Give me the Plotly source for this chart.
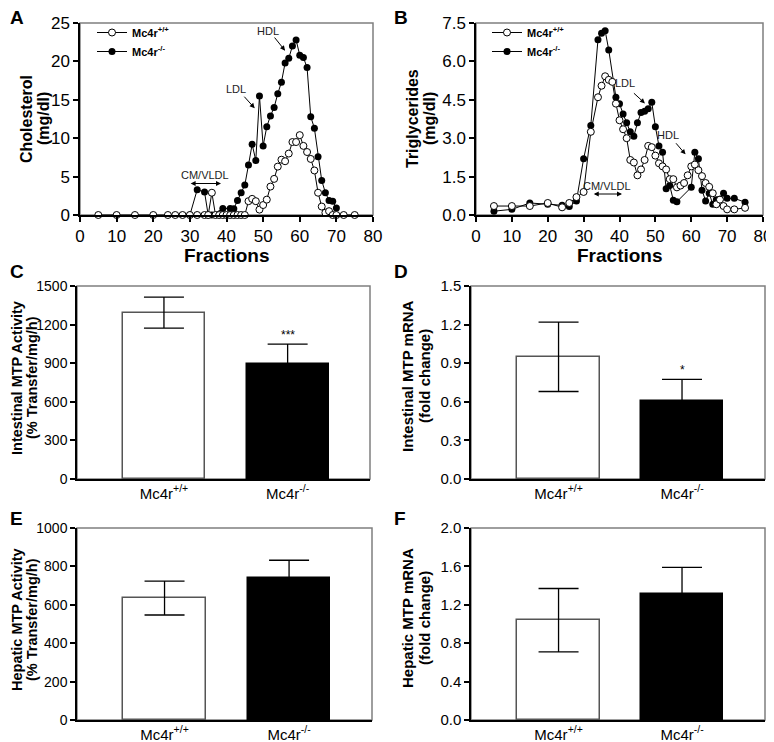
import plotly.graph_objects as go

# ---------------- DATA ----------------
# Panel A: cholesterol (mg/dl) per fraction
a_wt_frac = [5, 10, 15, 20, 24, 26, 28, 30, 32, 34, 35, 36, 37, 38, 39, 40, 41, 42, 43, 44, 45,
             46, 47, 48, 49, 50, 51, 52, 53, 54, 55, 56, 57, 58, 59, 60, 61, 62, 63, 64, 65,
             66, 67, 68, 69, 70, 72, 75]
a_wt_chol = [0, 0, 0, 0, 0, 0, 0, 0, 0, 0, 0, 2.9, 0, 0, 0, 0, 0, 0, 0, 0, 0,
             1.8, 2.1, 1.8, 0.7, 1.3, 2.0, 3.7, 4.7, 6.3, 7.2, 7.0, 8.0, 9.5, 9.5, 10.4, 9.0, 8.2, 7.3, 5.8, 2.9,
             1.1, 0.3, 0.5, 0.0, 0.0, 0.0, 0.0]
a_ko_frac = [30, 32, 34, 35, 36, 39, 41, 42, 43, 44, 45, 46, 47, 48, 49, 50, 51, 52, 53, 54,
             55, 56, 57, 58, 59, 60, 61, 62, 63, 64, 65, 66, 67, 68, 69, 70]
a_ko_chol = [0, 3.3, 3.0, 0, 0, 0.85, 0.85, 0.8, 1.9, 2.9, 3.9, 6.5, 9.2, 7.1, 15.5, 9.0, 11.5, 12.9, 14.0, 15.8,
             17.3, 19.8, 20.4, 22.0, 22.8, 20.8, 20.5, 19.2, 12.8, 11.3, 7.6, 4.5, 2.9, 1.9, 1.8, 0.9]

# Panel B: triglycerides (mg/dl) per fraction
b_wt_frac = [5, 10, 15, 20, 24, 26, 28, 30, 32, 34, 35, 36, 37, 38, 39, 40, 41, 42, 43, 44, 45,
             46, 47, 48, 49, 50, 51, 52, 53, 54, 55, 56, 57, 58, 59, 60, 61, 62, 63, 64, 65,
             66, 67, 68, 69, 70, 72, 75]
b_wt_tg = [0.35, 0.35, 0.35, 0.47, 0.3, 0.47, 0.7, 0.9, 3.25, 4.6, 5.05, 5.42, 5.28, 5.2, 4.35, 3.7, 3.35, 3.0, 2.15, 2.05, 1.55,
           1.78, 2.15, 2.7, 2.65, 2.32, 2.02, 1.9, 1.78, 1.4, 1.4, 1.08, 1.15, 1.25, 1.55, 1.9, 1.97, 1.75, 1.52, 1.25, 1.1,
           0.85, 0.42, 0.6, 0.35, 0.22, 0.22, 0.28]
b_ko_frac = [5, 10, 15, 20, 24, 26, 28, 30, 32, 34, 35, 36, 37, 39, 40, 41, 42, 43, 44, 45,
             46, 47, 48, 49, 50, 51, 52, 53, 54, 55, 56, 60, 61, 62, 63, 64, 65,
             66, 67, 68, 69, 70, 72, 75]
b_ko_tg = [0.15, 0.22, 0.47, 0.42, 0.38, 0.33, 0.55, 2.2, 3.5, 6.85, 7.1, 7.2, 6.45, 4.6, 4.35, 3.95, 3.6, 3.25, 3.08, 3.6,
           4.0, 4.05, 4.15, 4.4, 3.45, 2.7, 2.45, 1.03, 1.15, 0.58, 0.52, 1.08, 2.45, 2.2, 0.97, 0.55, 0.85,
           0.42, 0.6, 0.62, 0.85, 0.65, 0.65, 0.5]

# Bar panels
groups = ["Mc4r<sup>+/+</sup>", "Mc4r<sup>-/-</sup>"]
c_mean = [1293, 891]
c_err = [120, 158]
d_mean = [0.95, 0.61]
d_err = [0.27, 0.165]
e_mean = [635, 742]
e_err = [88, 90]
f_mean = [1.04, 1.31]
f_err = [0.33, 0.28]

# ---------------- LAYOUT HELPERS ----------------
OFF = 8                      # page body margin
W, H = 774 - OFF, 742 - OFF  # figure size
FONT = "Arial, Liberation Sans, sans-serif"


def sx(p):
    return (p - OFF) / W


def sy(p):
    return 1 - (p - OFF) / H


def xd(p0, p1):
    return [sx(p0), sx(p1)]


def yd(top, bottom):
    return [sy(bottom), sy(top)]


fig = go.Figure()

line_kw = dict(color="black", width=1)

# Panel A traces
fig.add_trace(go.Scatter(x=a_ko_frac, y=a_ko_chol, mode="lines+markers", name="<b>Mc4r<sup>-/-</sup></b>",
                         line=line_kw, marker=dict(size=7, color="black"),
                         xaxis="x", yaxis="y", cliponaxis=False, legend="legend", legendrank=2))
fig.add_trace(go.Scatter(x=a_wt_frac, y=a_wt_chol, mode="lines+markers", name="<b>Mc4r<sup>+/+</sup></b>",
                         line=line_kw, marker=dict(size=7, color="white", line=dict(color="black", width=1)),
                         xaxis="x", yaxis="y", cliponaxis=False, legend="legend", legendrank=1))
# Panel B traces
fig.add_trace(go.Scatter(x=b_ko_frac, y=b_ko_tg, mode="lines+markers", name="<b>Mc4r<sup>-/-</sup></b>",
                         line=line_kw, marker=dict(size=7, color="black"),
                         xaxis="x2", yaxis="y2", cliponaxis=False, legend="legend2", legendrank=2))
fig.add_trace(go.Scatter(x=b_wt_frac, y=b_wt_tg, mode="lines+markers", name="<b>Mc4r<sup>+/+</sup></b>",
                         line=line_kw, marker=dict(size=7, color="white", line=dict(color="black", width=1)),
                         xaxis="x2", yaxis="y2", cliponaxis=False, legend="legend2", legendrank=1))

bar_panels = [(c_mean, c_err, "x3", "y3"), (d_mean, d_err, "x4", "y4"),
              (e_mean, e_err, "x5", "y5"), (f_mean, f_err, "x6", "y6")]
for mean, err, xa, ya in bar_panels:
    fig.add_trace(go.Bar(x=[0, 1], y=mean, width=0.665,
                         marker=dict(color=["white", "black"], line=dict(color=["#555555", "black"], width=1.5)),
                         error_y=dict(type="data", array=err, visible=True, color="black", thickness=1.3, width=20),
                         xaxis=xa, yaxis=ya, showlegend=False))

tf_big = dict(family=FONT, size=17, color="black")
tf_mid = dict(family=FONT, size=15, color="black")
tf_sm = dict(family=FONT, size=14, color="black")

common = dict(showline=True, linecolor="black", linewidth=1.5, ticks="outside", ticklen=5,
              tickcolor="black", tickwidth=1.5, showgrid=False, zeroline=False, mirror=False,
              automargin=False)
catax = dict(showline=True, linecolor="black", linewidth=1.5, ticks="", showgrid=False, zeroline=False,
             mirror=False, automargin=False)

layout = dict(
    width=W, height=H, margin=dict(l=0, r=0, t=0, b=0, autoexpand=False),
    plot_bgcolor="white", paper_bgcolor="white",
    font=dict(family=FONT, color="black"), bargap=0,
    # A
    xaxis=dict(domain=xd(80, 373), anchor="y", range=[0, 80], tickvals=list(range(0, 81, 10)), tickfont=tf_big, **common),
    yaxis=dict(domain=yd(23, 215), anchor="x", range=[0, 25], tickvals=[0, 5, 10, 15, 20, 25], tickfont=tf_big, **common),
    # B
    xaxis2=dict(domain=xd(476, 763), anchor="y2", range=[0, 80], tickvals=list(range(0, 81, 10)), tickfont=tf_big, **common),
    yaxis2=dict(domain=yd(23, 215), anchor="x2", range=[0, 7.5], tickvals=[0, 1.5, 3, 4.5, 6, 7.5], tickformat=".1f",
                tickfont=tf_big, **common),
    # C
    xaxis3=dict(domain=xd(77, 370), anchor="y3", range=[-0.703, 1.666], tickvals=[0, 1], ticktext=groups,
                tickfont=tf_mid, **catax),
    yaxis3=dict(domain=yd(286, 479), anchor="x3", range=[0, 1500], tickvals=[0, 300, 600, 900, 1200, 1500],
                tickfont=tf_sm, **common),
    # D
    xaxis4=dict(domain=xd(471, 765), anchor="y4", range=[-0.709, 1.672], tickvals=[0, 1], ticktext=groups,
                tickfont=tf_mid, **catax),
    yaxis4=dict(domain=yd(286, 479), anchor="x4", range=[0, 1.5], tickvals=[0, 0.3, 0.6, 0.9, 1.2, 1.5], tickformat=".1f",
                tickfont=tf_mid, **common),
    # E
    xaxis5=dict(domain=xd(77, 372), anchor="y5", range=[-0.703, 1.666], tickvals=[0, 1], ticktext=groups,
                tickfont=tf_mid, **catax),
    yaxis5=dict(domain=yd(528, 720), anchor="x5", range=[0, 1000], tickvals=[0, 200, 400, 600, 800, 1000],
                tickfont=tf_sm, **common),
    # F
    xaxis6=dict(domain=xd(471, 765), anchor="y6", range=[-0.709, 1.672], tickvals=[0, 1], ticktext=groups,
                tickfont=tf_mid, **catax),
    yaxis6=dict(domain=yd(528, 720), anchor="x6", range=[0, 2.0], tickvals=[0, 0.4, 0.8, 1.2, 1.6, 2.0], tickformat=".1f",
                tickfont=tf_mid, **common),
    legend=dict(x=sx(92), y=sy(18), xanchor="left", yanchor="top", bgcolor="rgba(0,0,0,0)",
                font=dict(family=FONT, size=11), tracegroupgap=0, itemwidth=30, traceorder="normal"),
    legend2=dict(x=sx(487), y=sy(18), xanchor="left", yanchor="top", bgcolor="rgba(0,0,0,0)",
                 font=dict(family=FONT, size=11), tracegroupgap=0, itemwidth=30, traceorder="normal"),
)
fig.update_layout(**layout)

# gray frame (top/right) for each panel
for i in ["", "2", "3", "4", "5", "6"]:
    fig.add_shape(type="rect", xref=f"x{i} domain", yref=f"y{i} domain", x0=0, x1=1, y0=0, y1=1,
                  line=dict(color="#7f7f7f", width=1.5), layer="below")

# axis titles (one rotated text per line, placed at screen positions)
ytitles = [("Cholesterol", 27, 119, 16), ("(mg/dl)", 44, 119, 16),
           ("Triglycerides", 413, 119, 16), ("(mg/dl)", 430, 119, 16),
           ("Intestinal MTP Activity", 17, 378, 14.5), ("(% Transfer/mg/h)", 32, 378, 14.5),
           ("Intestinal MTP mRNA", 407, 376, 15), ("(fold change)", 424, 376, 15),
           ("Hepatic MTP Activity", 17, 620, 14.5), ("(% Transfer/mg/h)", 32, 620, 14.5),
           ("Hepatic MTP mRNA", 407, 618, 15), ("(fold change)", 424, 618, 15)]
for txt, px, py, fs in ytitles:
    fig.add_annotation(text=f"<b>{txt}</b>", x=sx(px), y=sy(py), xref="paper", yref="paper",
                       xanchor="center", yanchor="middle", textangle=-90, showarrow=False,
                       font=dict(family=FONT, size=fs, color="black"))
for px in [(80 + 373) / 2, (476 + 763) / 2]:
    fig.add_annotation(text="<b>Fractions</b>", x=sx(px), y=sy(255), xref="paper", yref="paper",
                       xanchor="center", yanchor="middle", showarrow=False,
                       font=dict(family=FONT, size=19, color="black"))

# panel letters
for txt, px, py in [("A", 8, 17), ("B", 392, 17), ("C", 8, 271), ("D", 392, 271), ("E", 8, 518), ("F", 392, 518)]:
    fig.add_annotation(text=f"<b>{txt}</b>", x=sx(px), y=sy(py), xref="paper", yref="paper",
                       xanchor="left", yanchor="middle", showarrow=False,
                       font=dict(family=FONT, size=19, color="black"))

ann_font = dict(family=FONT, size=11, color="#222222")
# Panel A annotations
fig.add_annotation(x=56, y=21.4, ax=52.8, ay=23.3, xref="x", yref="y", axref="x", ayref="y", text="",
                   showarrow=True, arrowhead=2, arrowsize=1, arrowwidth=1, arrowcolor="black")
fig.add_annotation(x=51.4, y=24.0, xref="x", yref="y", text="HDL", showarrow=False, font=ann_font)
fig.add_annotation(x=47.7, y=13.9, ax=44.5, ay=15.6, xref="x", yref="y", axref="x", ayref="y", text="",
                   showarrow=True, arrowhead=2, arrowsize=1, arrowwidth=1, arrowcolor="black")
fig.add_annotation(x=42.7, y=16.4, xref="x", yref="y", text="LDL", showarrow=False, font=ann_font)
fig.add_annotation(x=38.5, y=4.1, ax=29.8, ay=4.1, xref="x", yref="y", axref="x", ayref="y", text="",
                   showarrow=True, arrowhead=2, startarrowhead=2, arrowside="end+start", arrowsize=1,
                   arrowwidth=1, arrowcolor="black")
fig.add_annotation(x=34, y=5.2, xref="x", yref="y", text="CM/VLDL", showarrow=False, font=ann_font)

# Panel B annotations
fig.add_annotation(x=58.4, y=2.37, ax=55.4, ay=2.86, xref="x2", yref="y2", axref="x2", ayref="y2", text="",
                   showarrow=True, arrowhead=2, arrowsize=1, arrowwidth=1, arrowcolor="black")
fig.add_annotation(x=53.6, y=3.12, xref="x2", yref="y2", text="HDL", showarrow=False, font=ann_font)
fig.add_annotation(x=47.1, y=4.36, ax=43.6, ay=4.81, xref="x2", yref="y2", axref="x2", ayref="y2", text="",
                   showarrow=True, arrowhead=2, arrowsize=1, arrowwidth=1, arrowcolor="black")
fig.add_annotation(x=41.6, y=5.16, xref="x2", yref="y2", text="LDL", showarrow=False, font=ann_font)
fig.add_annotation(x=40.7, y=0.82, ax=32.4, ay=0.82, xref="x2", yref="y2", axref="x2", ayref="y2", text="",
                   showarrow=True, arrowhead=2, startarrowhead=2, arrowside="end+start", arrowsize=1,
                   arrowwidth=1, arrowcolor="black")
fig.add_annotation(x=36.5, y=1.12, xref="x2", yref="y2", text="CM/VLDL", showarrow=False, font=ann_font)

# significance marks
fig.add_annotation(x=1, y=c_mean[1] + c_err[1], xref="x3", yref="y3", text="***", showarrow=False,
                   yanchor="bottom", font=dict(family=FONT, size=12, color="black"))
fig.add_annotation(x=1, y=d_mean[1] + d_err[1], xref="x4", yref="y4", text="*", showarrow=False,
                   yanchor="bottom", font=dict(family=FONT, size=12, color="black"))

fig.write_html("out.html")
